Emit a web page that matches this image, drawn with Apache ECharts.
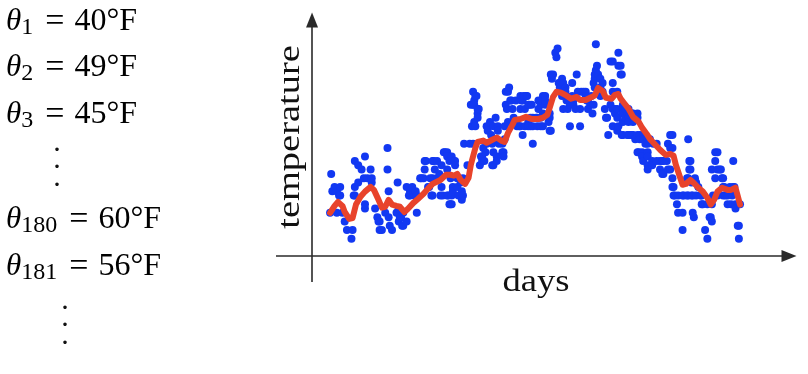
<!DOCTYPE html>
<html><head><meta charset="utf-8">
<script src="https://cdn.jsdelivr.net/npm/echarts@6/dist/echarts.min.js"></script>
<style>html,body{margin:0;padding:0;background:#fff}#c{width:808px;height:374px}</style>
</head><body><div id="c"></div>
<script>
// daily readings [day, °F]
const observations = [[1,40],[2,49],[3,45],[5,46],[7,45],[7,40],[9,44],[10,46],[10,44],[12,40],[14,38],[16,36],[20,34],[21,36],[22,44],[23,52],[23,46],[23,44],[26,51],[26,47],[29,50],[31,48],[32,53],[32,41],[32,42],[34,48],[37,50],[38,47],[38,48],[41,41],[43,39],[44,38],[45,38],[45,36],[47,36],[50,40],[52,55],[52,50],[53,45],[53,39],[54,37],[56,36],[60,40],[61,47],[61,40],[62,41],[62,38],[63,39],[64,39],[65,37],[66,40],[66,37],[69,38],[69,46],[71,44],[72,45],[72,44],[74,46],[76,44],[77,45],[78,44],[78,40],[81,48],[82,48],[84,48],[85,52],[85,50],[86,52],[88,46],[89,46],[90,48],[91,44],
[92,52],[92,48],[92,44],[93,52],[94,50],[96,52],[96,48],[98,49],[99,44],[100,51],[100,46],[101,44],[102,54],[103,54],[105,54],[105,53],[105,50],[105,44],[106,44],[107,52],[107,42],[108,48],[108,42],[109,53],[109,44],[109,42],[110,46],[110,45],[111,52],[112,52],[112,51],[114,48],[114,46],[115,44],[117,47],[118,45],[118,43],[119,48],[119,44],[120,56],[123,51],[125,56],[126,65],[127,60],[128,68],[128,65],[128,56],[129,66],[129,65],[129,61],[130,67],[130,60],[131,67],[132,64],[132,63],[132,62],[133,64],[134,51],[135,53],[136,53],[136,52],[137,55],[138,52],[139,54],[140,60],[140,56],[141,59],[143,61],[144,58],[145,56],[145,51],[146,60],[146,54],[146,51],[147,57],[148,62],[149,53],[149,52],[150,60],[150,59],[151,56],[154,56],[154,54],[155,54],[155,53],[156,60],[156,57],[157,68],[157,65],[158,64],[159,68],[159,61],[160,69],[161,66],[162,66],[163,64],[164,62],[166,66],[166,61],[167,60],[169,60],[170,67],[170,64],[170,60],[171,66],[172,66],[172,58],[173,67],[174,64],[174,60],[175,67],[176,67],[177,65],[177,61],[177,60],[178,65],[179,62],[179,60],[180,65],[181,62],[181,60],[181,56],[184,62],[185,62],[185,60],[186,66],[186,64],[188,65],[188,62],[188,60],[189,66],[190,67],[190,63],[190,60],
[192,67],[192,66],[192,65],[195,61],[196,63],[196,62],[196,59],[197,72],[197,59],[198,71],[199,72],[201,77],[202,76],[203,78],[204,70],[205,70],[205,69],[206,69],[207,71],[207,67],[208,70],[208,64],[210,69],[210,68],[211,66],[212,64],[214,65],[214,60],[216,70],[216,67],[217,66],[217,65],[219,64],[220,72],[221,68],[223,64],[223,60],[224,68],[226,68],[228,68],[228,67],[229,66],[230,66],[230,64],[232,65],[233,67],[234,63],[235,70],[235,65],[236,72],[236,71],[236,69],[237,79],[237,73],[238,74],[239,72],[241,71],[241,69],[241,67],[242,68],[243,70],[243,68],[245,64],[246,62],[247,62],[248,58],[250,75],[250,65],[252,75],[252,70],[252,68],[252,64],[252,60],[254,64],[254,63],[256,68],[256,64],[256,62],[256,59],[257,77],[257,74],[257,60],[259,74],[259,72],[260,72],[260,58],[261,65],[261,64],[261,63],[261,61],[261,58],[263,64],[263,62],[265,63],[265,58],[266,64],[266,62],[266,61],[266,58],[267,58],[269,63],[269,58],[270,63],[270,61],[270,58],[272,62],[272,57],[274,63],[274,62],[274,58],[274,54],[275,54],[276,58],[276,57],[278,54],[278,53],[279,58],[279,57],[279,52],[281,56],[283,57],[283,56],[283,54],[283,53],[283,51],[283,50],[285,57],[287,52],[287,51],[288,56],[291,56],[291,52],[294,52],[294,50],[296,52],[296,49],[297,52],[297,49],[300,52],[301,56],[301,50],[303,58],[303,55],[303,50],[305,58],[305,55],[305,48],[305,46],[306,46],[306,44],[307,44],[309,42],[310,44],[310,40],[314,44],[314,40],[314,36],[315,44],[318,48],[318,44],[319,57],[319,48],[319,44],[320,52],[320,50],[321,52],[321,50],[322,47],[322,44],[323,44],[323,40],[324,39],[325,48],[326,47],[326,44],[328,46],[330,44],[331,44],[331,42],[332,42],[334,36],[336,42],[336,34],[338,39],[339,39],[340,50],[340,42],[340,38],[341,44],[343,54],[343,52],[343,48],[345,54],[345,50],[345,44],[347,50],[348,50],[349,48],[350,48],[350,46],[350,44],[351,46],[352,44],[354,44],[354,42],[356,46],[357,42],[358,44],[359,52],[359,46],[360,46],[361,42],[361,41],[363,37],[364,37],[364,34],[365,42]];

// smoothed (averaged) curve
const avgDays = [1,5,8,12,14,18,21,24,28,32,37,40,44,47,50,53,56,60,63,67,70,75,79,84,88,92,99,104,108,111,114,117,121,124,126,130,132,137,140,145,149,153,156,159,163,165,170,175,180,186,190,194,196,199,202,206,211,215,220,223,228,232,236,239,243,246,251,254,257,259,262,266,270,275,278,282,285,290,294,299,303,306,308,311,314,317,321,324,328,332,336,339,342,345,349,354,357,361,363,365];
const avgTemps = [40.0,41.6,42.5,41.6,40.2,38.6,38.8,41.9,43.7,44.9,46.0,45.3,43.0,41.2,41.4,43.0,41.9,41.6,41.4,40.2,40.9,42.3,43.2,44.4,45.6,46.7,47.6,48.8,48.8,48.6,49.0,47.6,46.7,48.1,51.1,55.0,56.4,56.7,56.2,56.9,57.4,56.7,56.4,58.5,60.4,61.5,61.7,62.2,61.7,61.7,62.0,62.7,64.3,66.8,68.0,67.8,67.1,66.4,66.8,66.1,66.1,66.6,67.1,68.9,68.2,66.6,66.4,67.3,67.5,66.4,65.4,64.1,62.2,61.1,59.7,58.3,57.1,55.7,54.6,53.4,53.6,53.2,51.1,48.8,46.5,46.7,47.6,46.9,45.8,44.9,43.5,41.9,43.0,44.9,45.8,45.3,45.3,45.8,43.9,41.9];

const thetaSubs = ['1','2','3','180','181'];
const thetaValues = ['40°F','49°F','45°F','60°F','56°F'];
const axisCrossDay = -15;
const axisCrossTemp = 30;

const SERIF = 'Liberation Serif';
const chart = echarts.init(document.getElementById('c'), null, {renderer:'canvas'});

const thetaTops = [4, 50, 97, 202, 249];
const rich = {
  t: {fontFamily: SERIF, fontStyle: 'italic', fontSize: 31, lineHeight: 36, verticalAlign: 'middle', color: '#111'},
  s: {fontFamily: SERIF, fontSize: 24, lineHeight: 18, verticalAlign: 'bottom', color: '#111'},
  q: {fontFamily: SERIF, fontSize: 34, lineHeight: 36, verticalAlign: 'middle', color: '#111', padding: [0, 10, 0, 12]},
  v: {fontFamily: SERIF, fontSize: 32, lineHeight: 36, verticalAlign: 'middle', color: '#111'}
};
const graphics = thetaSubs.map((s, i) => ({
  type: 'text', x: 6, y: thetaTops[i], silent: true,
  style: {text: '{t|θ}{s|' + s + '}{q|=}{v|' + thetaValues[i] + '}', rich: rich, align: 'left', verticalAlign: 'top'}
}));
graphics.push({type:'text', x:57, y:134, silent:true, style:{text:'.\n.\n.', fontFamily:SERIF, fontSize:30, lineHeight:17.5, align:'center', verticalAlign:'top', fill:'#111'}});
graphics.push({type:'text', x:65, y:292, silent:true, style:{text:'.\n.\n.', fontFamily:SERIF, fontSize:30, lineHeight:17.5, align:'center', verticalAlign:'top', fill:'#111'}});
graphics.push({type:'text', x:536, y:283, scaleX:1.18, silent:true, style:{text:'days', fontFamily:SERIF, fontSize:31, align:'center', verticalAlign:'middle', fill:'#111'}});
graphics.push({type:'text', x:291, y:137, rotation: Math.PI/2, scaleX:1.24, silent:true, style:{text:'temperature', fontFamily:SERIF, fontSize:31, align:'center', verticalAlign:'middle', fill:'#111'}});

chart.setOption({
  animation: false,
  backgroundColor: '#fff',
  grid: {left: 276, top: 20, width: 513, height: 262, containLabel: false},
  xAxis: {type: 'value', min: -47, max: 408.5, show: false},
  yAxis: {type: 'value', min: 24, max: 84.6, show: false},
  graphic: graphics,
  series: [
    {
      type: 'scatter', data: observations, symbol: 'circle', symbolSize: 8,
      itemStyle: {color: '#1238F2', opacity: 1}, z: 2, silent: true,
      markLine: {
        silent: true, symbol: ['none', 'triangle'], symbolSize: [12, 15],
        lineStyle: {color: '#2a2a2a', width: 1.6, type: 'solid'},
        label: {show: false}, emphasis: {disabled: true},
        data: [{yAxis: axisCrossTemp}, {xAxis: axisCrossDay}]
      }
    },
    {
      type: 'line', data: avgDays.map((d, i) => [d, avgTemps[i]]), showSymbol: false, symbol: 'none',
      lineStyle: {color: '#E8432B', width: 6, cap: 'round', join: 'round'}, z: 3, silent: true
    }
  ]
});
</script></body></html>
